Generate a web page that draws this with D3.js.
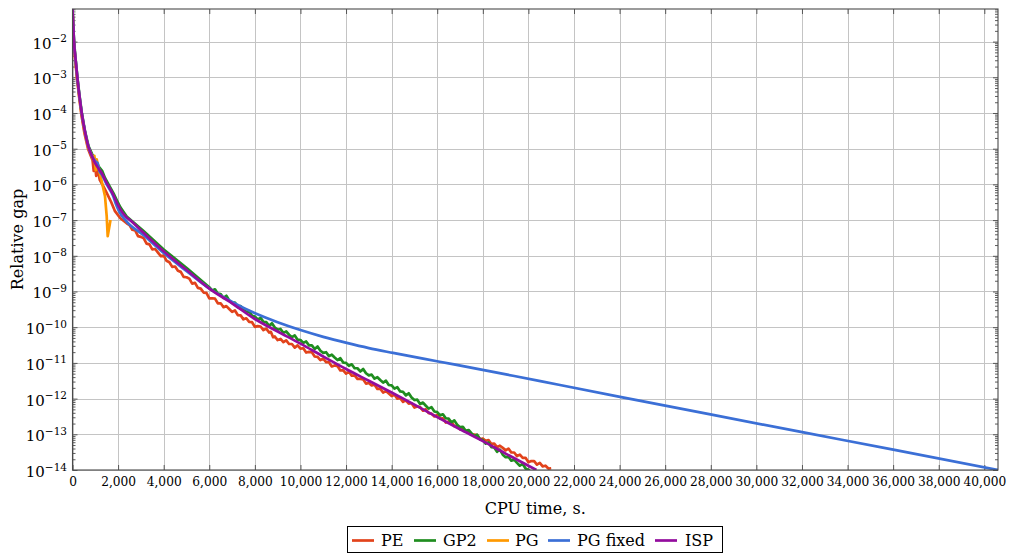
<!DOCTYPE html>
<html><head><meta charset="utf-8">
<script src="https://cdn.jsdelivr.net/npm/d3@7"></script>
<style>
body{margin:0;background:#fff}
svg text{font-family:"DejaVu Serif",serif;fill:#000}
</style>
</head><body>
<svg id="c" width="1011" height="553"></svg>
<script>
// ---------- data (x = CPU time in s, value = log10 of relative gap) ----------
const seriesNames = ["PE", "GP2", "PG", "PG fixed", "ISP"];
const seriesColors = ["#e2431b", "#1f8d1f", "#ff9900", "#3b6fd6", "#930c9e"];

const xTickValues = [0,2000,4000,6000,8000,10000,12000,14000,16000,18000,20000,22000,24000,26000,28000,30000,32000,34000,36000,38000,40000];
const yTickExponents = [-2,-3,-4,-5,-6,-7,-8,-9,-10,-11,-12,-13,-14];

const pePoints = [
[0,-1.09],[25,-1.55],[60,-2.05],[125,-2.55],[200,-3.05],[290,-3.55],[390,-4.05],[520,-4.55],[680,-5.0],[800,-5.2],[880,-5.32],[930,-5.62],[980,-5.42],[1040,-5.76],[1100,-5.58],[1200,-5.88],[1350,-6.05],[1500,-6.24],[1700,-6.5],[1864,-6.75],[2100,-6.95],[2377,-7.09],
[2500,-7.14],[2625,-7.27],[2750,-7.29],[2875,-7.45],[3000,-7.47],[3125,-7.51],[3250,-7.66],[3375,-7.68],[3500,-7.82],[3625,-7.81],[3750,-7.91],[3875,-8.01],[4000,-7.99],[4125,-8.14],[4250,-8.18],[4375,-8.31],[4500,-8.30],[4625,-8.42],[4750,-8.45],[4875,-8.59],[5000,-8.60],[5125,-8.64],[5250,-8.78],[5375,-8.76],[5500,-8.90],[5625,-8.92],[5750,-9.03],[5875,-9.04],[6000,-9.19],[6125,-9.19],[6250,-9.20],[6375,-9.33],[6500,-9.33],[6625,-9.44],[6750,-9.41],[6875,-9.49],[7000,-9.57],[7125,-9.53],[7250,-9.66],[7375,-9.67],[7500,-9.78],[7625,-9.75],[7750,-9.85],[7875,-9.86],[8000,-9.99],[8125,-9.97],[8250,-9.98],[8375,-10.08],[8500,-10.04],[8625,-10.15],[8700,-10.13],[8800,-10.28],[8875,-10.26],[9000,-10.36],[9125,-10.33],[9250,-10.42],[9375,-10.37],[9500,-10.47],[9625,-10.47],[9750,-10.57],[9875,-10.51],[10000,-10.60],[10125,-10.59],[10250,-10.71],[10375,-10.69],[10500,-10.70],[10625,-10.82],[10750,-10.83],[10875,-10.92],[11000,-10.88],[11125,-10.98],[11250,-10.98],[11375,-11.10],[11500,-11.07],[11625,-11.09],[11750,-11.21],[11875,-11.21],[12000,-11.30],[12125,-11.25],[12250,-11.36],[12375,-11.35],[12500,-11.45],[12625,-11.45],[12750,-11.46],[12875,-11.58],[13000,-11.56],[13125,-11.63],[13250,-11.61],[13375,-11.73],[13500,-11.72],[13625,-11.83],[13750,-11.79],[13875,-11.86],[14000,-11.93],[14125,-11.89],[14250,-12.00],[14375,-11.99],[14500,-12.09],[14625,-12.05],[14750,-12.14],[14875,-12.13],[15000,-12.25],[15125,-12.22],[15250,-12.24],[15375,-12.34],[15500,-12.30],[15625,-12.41],[15750,-12.42],[15875,-12.50],[16000,-12.46],[16125,-12.56],[16250,-12.55],[16375,-12.67],[16500,-12.64],[16625,-12.66],[16750,-12.77],[16875,-12.77],[17000,-12.86],[17125,-12.81],[17250,-12.92],[17375,-12.91],[17500,-13.01],[17625,-13.01],[17750,-13.02],[17875,-13.14],[18000,-13.12],[18125,-13.18],[18250,-13.16],[18375,-13.27],[18500,-13.26],[18625,-13.36],[18750,-13.32],[18875,-13.38],[19000,-13.45],[19125,-13.40],[19250,-13.51],[19375,-13.51],[19500,-13.61],[19625,-13.57],[19750,-13.66],[19875,-13.66],[20000,-13.78],[20125,-13.75],[20250,-13.75],[20375,-13.85],[20500,-13.80],[20625,-13.90],[20750,-13.88],[20875,-13.96],[21000,-13.95]
];

const gp2Points = [
[0,-1.09],[30,-1.5],[68,-2],[138,-2.5],[215,-3],[305,-3.5],[410,-4],[545,-4.5],[705,-4.93],[860,-5.15],[1000,-5.32],[1150,-5.5],[1300,-5.62],[1425,-5.82],[1600,-6.02],[1800,-6.25],[1950,-6.45],[2100,-6.64],[2377,-6.9],[3105,-7.3],[4013,-7.83],[5009,-8.34],
[6000,-8.88],[6125,-8.97],[6250,-8.94],[6375,-9.06],[6500,-9.07],[6625,-9.18],[6750,-9.12],[6875,-9.25],[7000,-9.32],[7125,-9.31],[7250,-9.44],[7375,-9.41],[7500,-9.50],[7625,-9.58],[7750,-9.55],[7875,-9.68],[8000,-9.70],[8125,-9.78],[8250,-9.74],[8375,-9.85],[8500,-9.86],[8625,-9.96],[8750,-9.89],[8875,-10.01],[9000,-10.07],[9125,-10.05],[9250,-10.16],[9375,-10.12],[9500,-10.21],[9625,-10.28],[9750,-10.23],[9875,-10.35],[10000,-10.36],[10125,-10.44],[10250,-10.40],[10375,-10.51],[10500,-10.51],[10625,-10.61],[10750,-10.54],[10875,-10.66],[11000,-10.72],[11125,-10.70],[11250,-10.81],[11375,-10.77],[11500,-10.85],[11625,-10.92],[11750,-10.87],[11875,-10.99],[12000,-11.00],[12125,-11.08],[12250,-11.04],[12375,-11.15],[12500,-11.15],[12625,-11.24],[12750,-11.17],[12875,-11.29],[13000,-11.35],[13125,-11.33],[13250,-11.44],[13375,-11.40],[13500,-11.48],[13625,-11.55],[13750,-11.50],[13875,-11.62],[14000,-11.63],[14125,-11.72],[14250,-11.68],[14375,-11.80],[14500,-11.81],[14625,-11.91],[14750,-11.85],[14875,-11.97],[15000,-12.04],[15125,-12.03],[15250,-12.15],[15375,-12.11],[15500,-12.20],[15625,-12.28],[15750,-12.24],[15875,-12.36],[16000,-12.38],[16125,-12.47],[16250,-12.44],[16375,-12.55],[16500,-12.56],[16625,-12.67],[16750,-12.61],[16875,-12.73],[17000,-12.80],[17125,-12.79],[17250,-12.91],[17375,-12.88],[17500,-12.97],[17625,-13.05],[17750,-13.01],[17875,-13.14],[18000,-13.16],[18125,-13.26],[18250,-13.23],[18375,-13.36],[18500,-13.37],[18625,-13.49],[18750,-13.43],[18875,-13.57],[19000,-13.64],[19125,-13.63],[19250,-13.74],[19375,-13.71],[19500,-13.80],[19625,-13.88],[19750,-13.83],[19875,-13.96],[20066,-14.02]
];

const pgPoints = [
[0,-1.09],[28,-1.52],[62,-2.03],[128,-2.52],[205,-3.02],[295,-3.52],[395,-4.02],[530,-4.52],[690,-4.97],[820,-5.15],[900,-5.3],[960,-5.2],[1020,-5.6],[1061,-5.3],[1150,-5.55],[1281,-5.91],[1425,-6.33],[1500,-6.89],[1544,-7.45],[1667,-7.0]
];

const pgFixedPoints = [
[0,-1.09],[30,-1.5],[66,-2],[135,-2.5],[211,-3],[300,-3.5],[404,-4],[540,-4.5],[700,-4.95],[850,-5.2],[1000,-5.35],[1100,-5.4],[1180,-5.62],[1281,-5.72],[1500,-6.0],[1789,-6.33],[1900,-6.54],[2050,-6.76],[2377,-7.04],[3105,-7.42],[4013,-7.93],[5009,-8.43],[6035,-8.93],[7000,-9.29],[8009,-9.61],[9000,-9.86],[10000,-10.08],[11000,-10.27],[12031,-10.44],[13000,-10.585],[14061,-10.72],[16048,-10.96],[17877,-11.18],[19325,-11.36],[21386,-11.62],[24016,-11.95],[28039,-12.45],[32013,-12.94],[36004,-13.43],[40600,-14.0]
];

const ispPoints = [
[0,-1.09],[30,-1.5],[66,-2],[135,-2.5],[211,-3],[300,-3.5],[404,-4],[540,-4.5],[700,-4.95],[850,-5.2],[987,-5.4],[1150,-5.56],[1281,-5.68],[1500,-5.96],[1789,-6.29],[1950,-6.52],[2100,-6.7],[2377,-6.93],[2522,-7.0],[3105,-7.35],[4013,-7.88],[5009,-8.4],[6000,-8.92],[7000,-9.33],[8000,-9.77],[9000,-10.12],[10000,-10.46],[11000,-10.82],[12000,-11.17],[13000,-11.5],[14000,-11.83],[15000,-12.17],[16000,-12.52],[17000,-12.86],[18000,-13.19],[19000,-13.54],[20000,-13.88],[20350,-14.0]
];

const allSeries = [pePoints, gp2Points, pgPoints, pgFixedPoints, ispPoints];
const smoothSeries = [false, false, false, true, true];

// ---------- layout ----------
const L = 72.5, R = 998, T = 9, B = 470;
const xMax = 40600, yTopExp = -1.087;

const svg = d3.select("#c");
const x = d3.scaleLinear().domain([0, xMax]).range([L, R]);
const y = d3.scaleLog().domain([1e-14, Math.pow(10, yTopExp)]).range([B, T]);

// grid
const grid = svg.append("g").attr("stroke", "#c4c4c4").attr("stroke-width", 1);
grid.selectAll("line.v").data(xTickValues).join("line")
  .attr("x1", d => Math.round(x(d)) + 0.5).attr("x2", d => Math.round(x(d)) + 0.5)
  .attr("y1", T).attr("y2", B);
grid.selectAll("line.h").data(yTickExponents).join("line")
  .attr("y1", d => Math.round(y(Math.pow(10, d))) + 0.5).attr("y2", d => Math.round(y(Math.pow(10, d))) + 0.5)
  .attr("x1", L).attr("x2", R);

// minor tick values for the log axis
const minorVals = [];
for (let e = -14; e <= -2; e++) for (let m = 2; m <= 9; m++) {
  const v = m * Math.pow(10, e);
  if (v < Math.pow(10, yTopExp)) minorVals.push(v);
}

const tickColor = "#4a4a4a";
function styleAxis(g) {
  g.select(".domain").remove();
  g.selectAll(".tick line").attr("stroke", tickColor).attr("stroke-width", 0.9);
}

// bottom axis
svg.append("g").attr("transform", `translate(0,${B})`)
  .call(d3.axisBottom(x).tickValues(xTickValues).tickFormat(d3.format(",")).tickSizeInner(-5).tickSizeOuter(0).tickPadding(7))
  .call(styleAxis)
  .call(g => g.attr("font-family", null).attr("font-size", null))
  .call(g => g.selectAll("text").style("font-size", "12.2px").attr("fill", "#000"));
// top axis
svg.append("g").attr("transform", `translate(0,${T})`)
  .call(d3.axisTop(x).tickValues(xTickValues).tickFormat("").tickSizeInner(-5).tickSizeOuter(0))
  .call(styleAxis);
// left axis
svg.append("g").attr("transform", `translate(${L},0)`)
  .call(d3.axisLeft(y).tickValues(yTickExponents.map(e => Math.pow(10, e))).tickFormat("").tickSizeInner(-5).tickSizeOuter(0))
  .call(styleAxis);
svg.append("g").attr("transform", `translate(${L},0)`)
  .call(d3.axisLeft(y).tickValues(minorVals).tickFormat("").tickSizeInner(-3).tickSizeOuter(0))
  .call(styleAxis);
// right axis
svg.append("g").attr("transform", `translate(${R},0)`)
  .call(d3.axisRight(y).tickValues(yTickExponents.map(e => Math.pow(10, e))).tickFormat("").tickSizeInner(-5).tickSizeOuter(0))
  .call(styleAxis);
svg.append("g").attr("transform", `translate(${R},0)`)
  .call(d3.axisRight(y).tickValues(minorVals).tickFormat("").tickSizeInner(-3).tickSizeOuter(0))
  .call(styleAxis);

// y tick labels with superscript exponents
const yl = svg.append("g");
yTickExponents.forEach(e => {
  const t = yl.append("text").attr("x", 67).attr("y", y(Math.pow(10, e)) + 7)
    .attr("text-anchor", "end");
  t.append("tspan").style("font-size", "15px").text("10");
  t.append("tspan").style("font-size", "10.5px").attr("dy", -6.5).text("\u2212" + Math.abs(e));
});

// series lines
svg.append("clipPath").attr("id", "clip").append("rect")
  .attr("x", L).attr("y", T).attr("width", R - L).attr("height", B - T);
const lines = svg.append("g").attr("clip-path", "url(#clip)");
allSeries.forEach((s, i) => {
  const line = d3.line().x(d => x(d[0])).y(d => y(Math.pow(10, d[1])))
    .curve(smoothSeries[i] ? d3.curveMonotoneX : d3.curveLinear);
  lines.append("path").datum(s).attr("d", line)
    .attr("fill", "none").attr("stroke", seriesColors[i]).attr("stroke-width", 2.7)
    .attr("stroke-linejoin", "round").attr("stroke-linecap", "butt");
});

// frame
svg.append("rect").attr("x", L).attr("y", T).attr("width", R - L).attr("height", B - T)
  .attr("fill", "none").attr("stroke", tickColor).attr("stroke-width", 1.1);

// axis labels
svg.append("text").attr("x", (L + R) / 2).attr("y", 514).attr("text-anchor", "middle")
  .style("font-size", "16px").text("CPU time, s.");
svg.append("text").attr("transform", `translate(23,${(T + B) / 2}) rotate(-90)`)
  .attr("text-anchor", "middle").style("font-size", "16px").text("Relative gap");

// legend
const legLineX = [352, 414, 487, 548, 655];
const legTextX = [381, 443, 515, 577, 685];
const leg = svg.append("g");
leg.append("rect").attr("x", 347.5).attr("y", 526.5).attr("width", 375).attr("height", 26)
  .attr("fill", "#fff").attr("stroke", "#000").attr("stroke-width", 1);
seriesNames.forEach((n, i) => {
  leg.append("line").attr("x1", legLineX[i]).attr("x2", legLineX[i] + 22)
    .attr("y1", 540.5).attr("y2", 540.5).attr("stroke", seriesColors[i]).attr("stroke-width", 2.7);
  leg.append("text").attr("x", legTextX[i]).attr("y", 546).style("font-size", "16px").text(n);
});
</script>
</body></html>
